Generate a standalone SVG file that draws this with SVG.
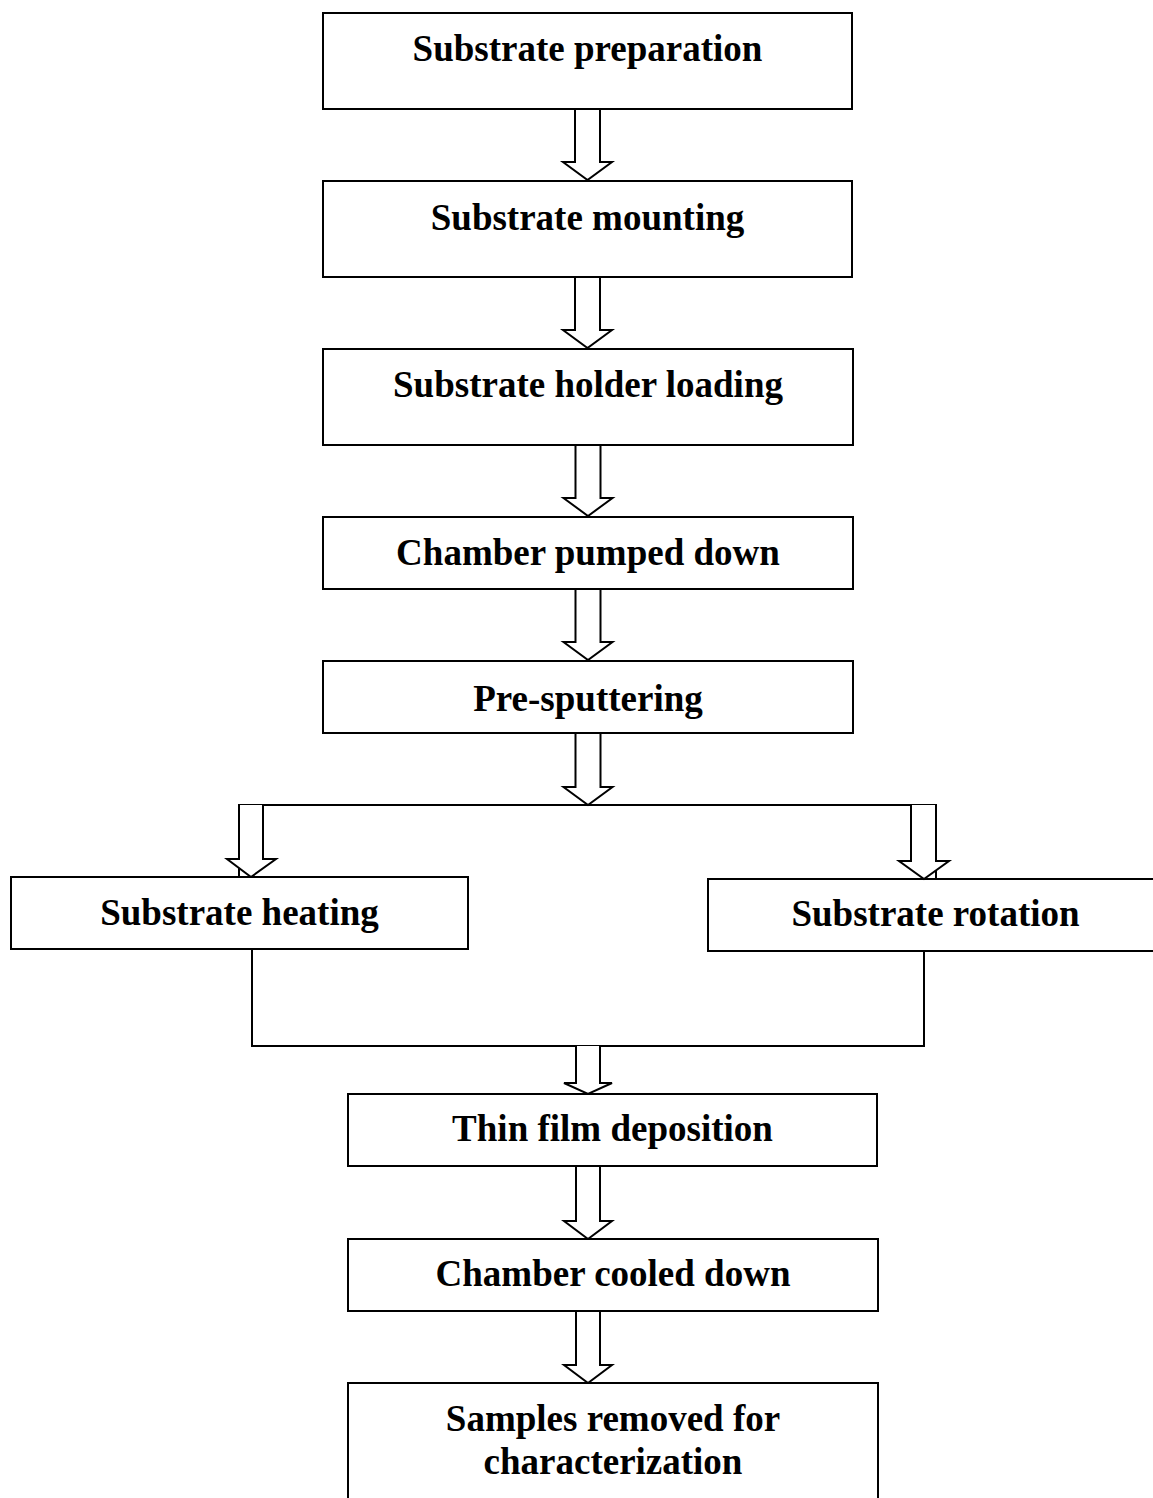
<svg xmlns="http://www.w3.org/2000/svg" width="1153" height="1498" viewBox="0 0 1153 1498">
<style>
.box{fill:#fff;stroke:#000;stroke-width:2}
.arr{fill:#fff;stroke:#000;stroke-width:2;stroke-linejoin:miter}
.ln{fill:none;stroke:#000;stroke-width:2}
text{font-family:"Liberation Serif","Times New Roman",serif;font-weight:bold;font-size:37px;fill:#000;text-anchor:middle}
</style>
<rect width="1153" height="1498" fill="#fff"/>
<g id="connectors">
<path class="arr" d="M575,109 V162 H563 L587.5,180 L612,162 H600 V109"/>
<path class="arr" d="M575,277 V330 H563 L587.5,348 L612,330 H600 V277"/>
<path class="arr" d="M575.5,445 V498 H563.5 L588,516 L612.5,498 H600.5 V445"/>
<path class="arr" d="M575.5,589 V642 H563.5 L588,660 L612.5,642 H600.5 V589"/>
<path class="arr" d="M575.5,733 V787 H563.5 L588,805 L612.5,787 H600.5 V733"/>
<path class="ln" d="M239,877 V805 H936 V879"/>
<path class="arr" d="M239,805 V859 H227 L251,877 L276,859 H263 V805"/>
<path class="arr" d="M911,805 V861 H899 L924,879 L949,861 H936 V805"/>
<path class="ln" d="M252,949 V1046 H924 V951"/>
<path class="arr" d="M576,1046 V1083 H564 L588,1094 L612,1083 H600 V1046"/>
<path class="arr" d="M576,1166 V1221 H564 L588,1239 L612,1221 H600 V1166"/>
<path class="arr" d="M576,1311 V1365 H564 L588,1383 L612,1365 H600 V1311"/>
</g>
<g id="n1"><rect class="box" x="323" y="13" width="529" height="96"/><text x="587.5" y="61">Substrate preparation</text></g>
<g id="n2"><rect class="box" x="323" y="181" width="529" height="96"/><text x="587.5" y="230">Substrate mounting</text></g>
<g id="n3"><rect class="box" x="323" y="349" width="530" height="96"/><text x="588" y="397">Substrate holder loading</text></g>
<g id="n4"><rect class="box" x="323" y="517" width="530" height="72"/><text x="588" y="565">Chamber pumped down</text></g>
<g id="n5"><rect class="box" x="323" y="661" width="530" height="72"/><text x="588" y="711">Pre-sputtering</text></g>
<g id="n6"><rect class="box" x="11" y="877" width="457" height="72"/><text x="239.5" y="925">Substrate heating</text></g>
<g id="n7"><path class="ln" d="M1155,879 H708 V951 H1155"/><text x="935.5" y="926">Substrate rotation</text></g>
<g id="n8"><rect class="box" x="348" y="1094" width="529" height="72"/><text x="612.5" y="1141">Thin film deposition</text></g>
<g id="n9"><rect class="box" x="348" y="1239" width="530" height="72"/><text x="613" y="1286">Chamber cooled down</text></g>
<g id="n10"><rect class="box" x="348" y="1383" width="530" height="130"/><text x="613" y="1431">Samples removed for</text><text x="613" y="1474">characterization</text></g>
</svg>
